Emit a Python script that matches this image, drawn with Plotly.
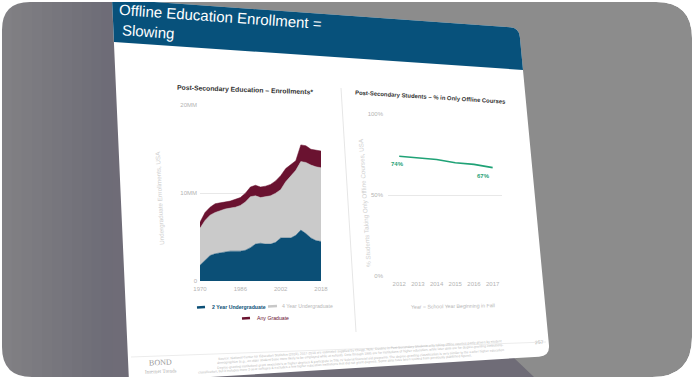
import plotly.graph_objects as go

W, H = 694, 380

# ---------------- data ----------------
years = [1970, 1972, 1974, 1976, 1978, 1980, 1982, 1984, 1986, 1988, 1990, 1992,
         1994, 1996, 1998, 2000, 2002, 2004, 2006, 2008, 2010, 2012, 2014, 2016, 2018]
two_year = [1.8, 2.4, 2.9, 3.1, 3.2, 3.3, 3.4, 3.4, 3.4, 3.5, 3.8, 4.2,
            4.3, 4.2, 4.2, 4.4, 4.9, 4.9, 4.9, 5.2, 5.8, 5.4, 4.9, 4.6, 4.5]
four_year = [4.2, 4.5, 4.6, 4.7, 4.8, 4.9, 4.9, 5.0, 5.2, 5.5, 5.8, 5.5,
             5.2, 5.4, 5.5, 5.6, 5.5, 6.4, 7.1, 7.4, 7.8, 8.1, 8.3, 8.4, 8.4]
graduate = [0.7, 0.9, 0.9, 1.0, 0.9, 0.8, 0.8, 0.9, 0.9, 1.0, 1.1, 1.2,
            1.2, 1.2, 1.3, 1.4, 1.6, 1.5, 1.3, 1.1, 1.9, 1.9, 1.8, 1.9, 1.9]
left_ticks = [0, 10, 20]
left_tick_text = ["0", "10MM", "20MM"]
left_xticks = [1970, 1986, 2002, 2018]

off_years = [2012, 2013, 2014, 2015, 2016, 2017]
off_pct = [74, 73, 72, 70, 69, 67]
right_ticks = [0, 50, 100]
right_tick_text = ["0%", "50%", "100%"]

BLUE = "#0b4f76"
GRAY = "#cacaca"
MAROON = "#6a1230"
GREEN = "#1fa276"
HEADER = "#07517b"
TICK = "#b3b3b3"
FONT = "Liberation Sans, Arial, sans-serif"


def P(x, y):
    return x / W, 1 - y / H


def fmt(x, y):
    a, b = P(x, y)
    return f"{a:.5f},{b:.5f}"


def poly(pts):
    s = "M" + fmt(*pts[0])
    for p in pts[1:]:
        s += " L" + fmt(*p)
    return s + " Z"


def rounded_poly(pts, radii):
    import math
    n = len(pts)
    segs = []
    for i in range(n):
        p = pts[i]
        r = radii[i]
        if r == 0:
            segs.append(("P", p))
            continue
        a = pts[i - 1]
        b = pts[(i + 1) % n]
        da = (a[0] - p[0], a[1] - p[1]); la = math.hypot(*da)
        db = (b[0] - p[0], b[1] - p[1]); lb = math.hypot(*db)
        p1 = (p[0] + da[0] / la * r, p[1] + da[1] / la * r)
        p2 = (p[0] + db[0] / lb * r, p[1] + db[1] / lb * r)
        segs.append(("R", p1, p, p2))
    s = ""
    for k, sg in enumerate(segs):
        if sg[0] == "P":
            s += ("M" if k == 0 else " L") + fmt(*sg[1])
        else:
            s += ("M" if k == 0 else " L") + fmt(*sg[1]) + " Q" + fmt(*sg[2]) + " " + fmt(*sg[3])
    return s + " Z"


shapes = []


def add_path(path, color, layer="below", line_color=None, lw=0):
    shapes.append(dict(type="path", path=path, xref="paper", yref="paper",
                       fillcolor=color, line=dict(width=lw, color=line_color or color),
                       layer=layer))


def add_line(x0, y0, x1, y1, color, width=1, layer="below"):
    a, b = P(x0, y0)
    c, d = P(x1, y1)
    shapes.append(dict(type="line", x0=a, y0=b, x1=c, y1=d, xref="paper", yref="paper",
                       line=dict(color=color, width=width), layer=layer))


# outer grey card
add_path(rounded_poly([(2, 2), (692, 2), (692, 377), (2, 377)], [28, 36, 40, 30]), "#8c8c8c")
# darker left region + shadow under slide
add_path(poly([(2, 2), (113, 2), (500, 340), (513, 357), (534, 377), (2, 377)]), "#6f6c77")
# gradient strips on left
c0 = (129, 128, 132)
c1 = (110, 108, 119)
n = 11
for i in range(n):
    t = i / (n - 1)
    col = "rgb({},{},{})".format(*[int(c0[k] + (c1[k] - c0[k]) * t) for k in range(3)])
    x0 = 2 + i * 10
    add_path(poly([(x0, 2), (x0 + 10.5, 2), (x0 + 10.5, 377), (x0, 377)]), col)


def corner_mask(cx, cy, sx, sy, r):
    pts = "M" + fmt(cx - sx * 3, cy - sy * 3) + " L" + fmt(cx + sx * r, cy - sy * 3) + " L" + fmt(cx + sx * r, cy) + \
          " Q" + fmt(cx, cy) + " " + fmt(cx, cy + sy * r) + " L" + fmt(cx - sx * 3, cy + sy * r) + " Z"
    add_path(pts, "#ffffff")


corner_mask(2, 2, 1, 1, 28)
corner_mask(692, 2, -1, 1, 36)
corner_mask(692, 377, -1, -1, 40)
corner_mask(2, 377, 1, -1, 30)

# slide (white) and header (blue)
A, B, C, D = (112, -1), (519, 28), (550, 356), (129, 382)
add_path(rounded_poly([A, B, C, D], [0, 9, 11, 0]), "#ffffff")
E, F = (523, 70), (114, 42)
add_path(rounded_poly([A, B, E, F], [0, 9, 0, 0]), HEADER)

# divider, footer line
add_line(341, 88, 356, 332, "#e6e6e6", 1)
add_line(131, 357, 546, 342, "#ececec", 1)

# white frame at top / bottom edges
shapes.append(dict(type="rect", x0=0, x1=1, y0=1 - 2 / H, y1=1, xref="paper", yref="paper",
                   fillcolor="#ffffff", line=dict(width=0), layer="above"))
shapes.append(dict(type="rect", x0=0, x1=1, y0=0, y1=3 / H, xref="paper", yref="paper",
                   fillcolor="#ffffff", line=dict(width=0), layer="above"))

fig = go.Figure()

# left chart: stacked areas
fig.add_trace(go.Scatter(x=years, y=two_year, stackgroup="one", mode="lines",
                         line=dict(width=0.5, color=BLUE), fillcolor=BLUE,
                         name="2 Year Undergraduate", xaxis="x", yaxis="y"))
fig.add_trace(go.Scatter(x=years, y=four_year, stackgroup="one", mode="lines",
                         line=dict(width=0.5, color=GRAY), fillcolor=GRAY,
                         name="4 Year Undergraduate", xaxis="x", yaxis="y"))
fig.add_trace(go.Scatter(x=years, y=graduate, stackgroup="one", mode="lines",
                         line=dict(width=0.5, color=MAROON), fillcolor=MAROON,
                         name="Any Graduate", xaxis="x", yaxis="y"))

# right chart: line
fig.add_trace(go.Scatter(x=off_years, y=off_pct, mode="lines",
                         line=dict(color=GREEN, width=1.6), xaxis="x2", yaxis="y2",
                         name="% in Only Offline Courses"))

lx0, lx1 = P(200, 0)[0], P(321, 0)[0]
ly0, ly1 = P(0, 281)[1], P(0, 104.5)[1]
rx0, rx1 = P(388, 0)[0], P(502, 0)[0]
ry0, ry1 = P(0, 276)[1], P(0, 113.4)[1]

axis_common = dict(showline=False, zeroline=False, ticks="",
                   tickfont=dict(size=6, color=TICK, family=FONT))

fig.update_layout(
    width=W, height=H, margin=dict(l=0, r=0, t=0, b=0, autoexpand=False),
    paper_bgcolor="#ffffff", plot_bgcolor="rgba(0,0,0,0)",
    showlegend=False, hovermode=False,
    xaxis=dict(domain=[lx0, lx1], range=[1970, 2018], tickvals=left_xticks,
               showgrid=False, ticklabelstandoff=3, **axis_common),
    yaxis=dict(domain=[ly0, ly1], range=[0, 20.1], tickvals=left_ticks, ticktext=left_tick_text,
               showgrid=True, gridcolor="#e8e8e8", gridwidth=1, ticklabelstandoff=2, **axis_common),
    xaxis2=dict(domain=[rx0, rx1], range=[2011.4, 2017.5], tickvals=off_years, anchor="y2",
                showgrid=False, ticklabelstandoff=3, **axis_common),
    yaxis2=dict(domain=[ry0, ry1], range=[0, 100.5], tickvals=right_ticks, ticktext=right_tick_text,
                anchor="x2", showgrid=True, gridcolor="#e8e8e8", gridwidth=1, ticklabelstandoff=4,
                **axis_common),
)

ann = []


def text(x, y, s, size, color, angle=0, anchor="center", bold=False, family=FONT):
    a, b = P(x, y)
    ann.append(dict(x=a, y=b, xref="paper", yref="paper", text=s, showarrow=False,
                    xanchor=anchor, yanchor="middle", textangle=angle,
                    font=dict(size=size, color=color, family=family,
                              weight="bold" if bold else "normal")))


# data labels at first / last point of the offline series
for idx, xs in ((0, -2), (len(off_years) - 1, -9)):
    ann.append(dict(x=off_years[idx], y=off_pct[idx], xref="x2", yref="y2",
                    text=f"{off_pct[idx]}%", showarrow=False, xanchor="center", yanchor="top",
                    xshift=xs, yshift=-3,
                    font=dict(size=6, color=GREEN, family=FONT, weight="bold")))

# header title
text(221, 16.5, "Offline Education Enrollment =", 15, "#ffffff", angle=4)
text(148, 31.5, "Slowing", 15, "#ffffff", angle=4)

# chart titles
text(245, 89.5, "Post-Secondary Education – Enrollments*", 6.8, "#333333", angle=2, bold=True)
text(430, 97.5, "Post-Secondary Students – % in Only Offline Courses", 5.9, "#333333", angle=3.5, bold=True)

# axis titles
text(160, 198, "Undergraduate Enrollments, USA", 6.3, "#cfcfcf", angle=-92.7)
text(365, 203, "% Students Taking Only Offline Courses, USA", 6.3, "#cfcfcf", angle=-93.5)
text(453, 306, "Year = School Year Beginning in Fall", 5.2, "#b5b5b5", angle=-1)

# legend
add_line(197, 307.5, 205, 307, BLUE, 2.5, layer="above")
text(210, 306.5, "2 Year Undergraduate", 5.2, BLUE, anchor="left", bold=True)
add_line(268, 306.5, 277, 306, "#c8c8c8", 2.5, layer="above")
text(280, 306, "4 Year Undergraduate", 5.2, "#b8b8b8", anchor="left")
add_line(242, 318.5, 250, 318, MAROON, 2.5, layer="above")
text(255, 318, "Any Graduate", 5.2, MAROON, anchor="left")

# footer
text(160, 362, "BOND", 8, "#9a9a9a", angle=-2, family="Liberation Serif, DejaVu Serif, serif")
text(161, 371, "Internet Trends", 5.2, "#b0b0b0", angle=-2, family="Liberation Serif, DejaVu Serif, serif")
src = [
    "Source: National Center for Education Statistics (2018), 2017-2018 are estimates supplied by Chegg. Note: Decline in Post-Secondary Students only taking offline courses partly driven by student",
    "demographics (e.g., an older student base more likely to be employed while at school). Data through 1995 are for institutions of higher education, while later data are for degree-granting institutions.",
    "Degree-granting institutions grant associate's or higher degrees & participate in Title IV federal financial aid programs. The degree-granting classification is very similar to the earlier higher education",
    "classification, but it includes more 2-year colleges & excludes a few higher education institutions that did not grant degrees. Some data have been revised from previously published figures.",
]
for i, s in enumerate(src):
    text(360 - (25 if i == 3 else 0), 350 + 4.3 * i + (1.5 if i == 3 else 0), s, 3.3, "#b8b8b8", angle=-3.6)
text(539, 342, "257", 5, "#b0b0b0", angle=-3)

fig.update_layout(annotations=ann, shapes=shapes)
fig.write_html("out.html", config={"displayModeBar": False, "staticPlot": True},
               post_script="document.body.style.margin='0';document.body.style.overflow='hidden';")
